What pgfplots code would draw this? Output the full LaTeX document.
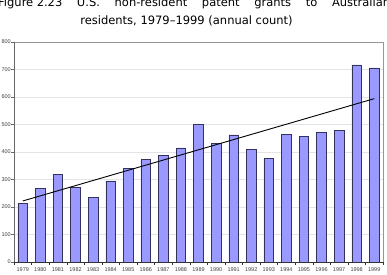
\documentclass[border=0pt]{standalone}
\usepackage{pgfplots}
\usepackage{pgfplotstable}
\pgfplotsset{compat=1.18}
\usepackage{fontspec}
\setmainfont{Liberation Sans}
\newfontfamily\titlefont{DejaVu Sans}

\definecolor{barfill}{RGB}{153,153,255}
\definecolor{barline}{RGB}{50,50,90}
\definecolor{gridgray}{RGB}{228,228,228}
\definecolor{boxgray}{RGB}{150,150,150}

% Annual U.S. patent grants to Australian residents
\pgfplotstableread{
idx year count
0 1979 212
1 1980 268
2 1981 319
3 1982 271
4 1983 236
5 1984 295
6 1985 340
7 1986 373
8 1987 387
9 1988 415
10 1989 499
11 1990 430
12 1991 462
13 1992 409
14 1993 376
15 1994 465
16 1995 457
17 1996 471
18 1997 478
19 1998 717
20 1999 706
}\grants

\begin{document}
\begin{tikzpicture}
\begin{axis}[
  at={(0,0)}, anchor=south west,
  scale only axis, width=369pt, height=220pt,
  xmin=-0.5, xmax=20.5, ymin=0, ymax=800,
  ytick={0,100,...,800},
  xtick={0,...,20},
  xticklabels from table={\grants}{year},
  x tick style={draw=none},
  extra x ticks={-0.5,0.5,...,20.5},
  extra x tick labels={},
  extra x tick style={grid=none, x tick style={draw=black!80}},
  tick align=outside, tick pos=left,
  major tick length=2.5pt,
  y tick style={draw=black!60},
  ymajorgrids, grid style={gridgray, line width=0.5pt},
  axis line style={boxgray, line width=0.6pt},
  tick label style={font=\fontsize{5.5}{6}\selectfont, text=black!75},
  yticklabel style={inner sep=0.6pt},
  xticklabel style={inner sep=0pt, yshift=-2.5pt},
  /pgf/number format/assume math mode=true,
  clip=false,
]
\addplot[ybar, bar width=0.55, fill=barfill, draw=barline, line width=0.6pt]
  table[x=idx, y=count]{\grants};
% linear trend across the period
\addplot[black, line width=0.9pt, no marks] coordinates {(0,222) (20,594)};
\end{axis}
\draw[black!60, line width=0.8pt] (0,0) -- (0,220pt);
\draw[black!80, line width=0.7pt] (0,0) -- (369pt,0);

\node[font=\titlefont\fontsize{11.5}{13}\selectfont, anchor=base west, inner sep=0pt]
  at (-16pt,255.5pt)
  {\makebox[392pt][s]{Figure\kern0.3em 2.23 U.S. non-resident patent grants to Australian}};
\node[font=\titlefont\fontsize{11.5}{13}\selectfont, anchor=base, inner sep=0pt]
  at (172.5pt,238pt) {residents, 1979–1999 (annual count)};

\pgfresetboundingbox
\path[use as bounding box] (-14pt,-12pt) rectangle (373pt,262pt);
\end{tikzpicture}
\end{document}
